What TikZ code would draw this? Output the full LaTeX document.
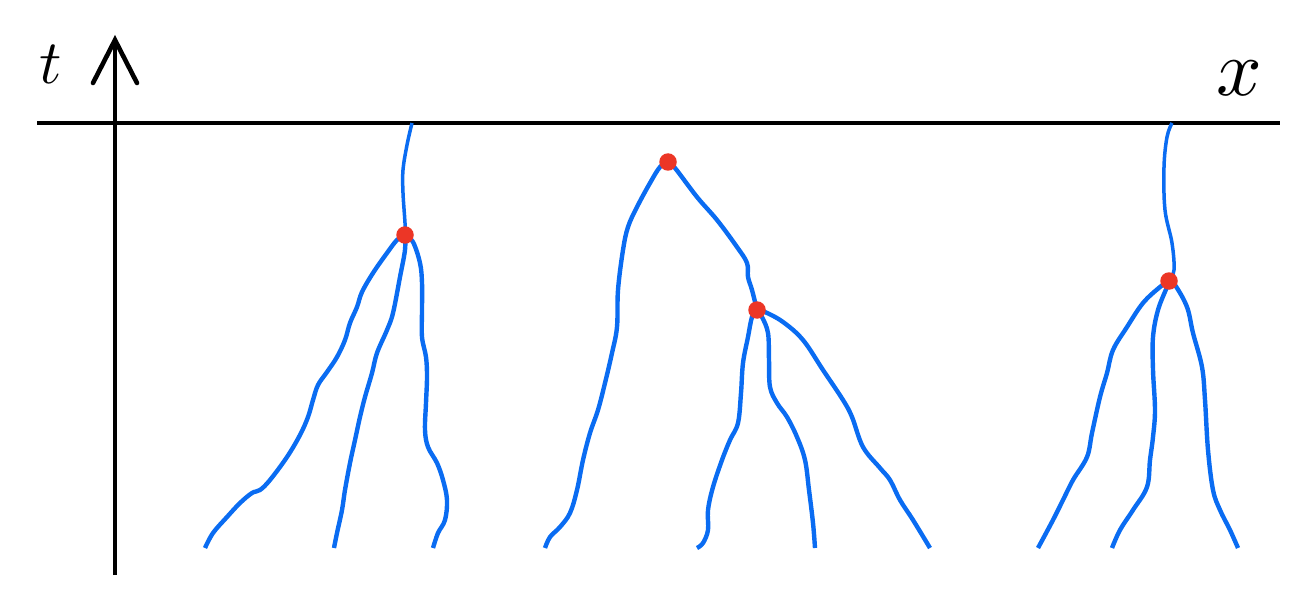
\documentclass[tikz,border=0pt]{standalone}
\usetikzlibrary{calc}
\definecolor{lineblue}{HTML}{0A6CF2}
\definecolor{dotred}{HTML}{EC3626}
\tikzset{
  branch/.style={draw=lineblue, line width=4.4pt, line cap=butt, line join=round},
  stem/.style={branch, line width=3.5pt},
  dot/.style={circle, fill=dotred, inner sep=0pt, minimum size=17.5pt},
  axis/.style={draw=black, line width=4.6pt},
  lbl/.style={inner sep=0pt, text=black}
}
\begin{document}
\begin{tikzpicture}[x=1pt,y=-1pt]
\useasboundingbox (0,0) rectangle (1310,599);
% axes
\coordinate (xl0) at (37,123);
\coordinate (xr0) at (1280,123);
\coordinate (yb) at (115,575);
\coordinate (ytip) at (115,40);
\draw[axis] (xl0) -- (xr0);
\draw[axis] (yb) -- (ytip);
\draw[axis, line join=miter, line cap=round] ($(ytip)+(-22,43)$) -- (ytip) -- ($(ytip)+(22,43)$);
\node[lbl, scale=6.2] (tlab) at (51,64) {$t$};
\node[lbl, scale=8] (xlab) at (1239,78) {$x$};

% branching points
\coordinate (A) at (405,235);
\coordinate (B) at (668,162);
\coordinate (C) at (757,310);
\coordinate (D) at (1169,281);
\coordinate (Atop) at (412,123);
\coordinate (Dtop) at (1172,123);

% tree 1
\draw[stem] plot[smooth, tension=0.6] coordinates {(Atop) (407,145) (403,170) (403,193) (405,223) (A)};
\draw[branch] plot[smooth, tension=0.6] coordinates {(A) (397,240) (387,253) (373,273) (362,292) (357,307) (350,323) (345,340) (337,357) (327,372) (318,385) (313,400) (308,417) (300,435) (287,457) (270,480) (260,490) (252,493) (240,503) (227,517) (213,533) (205,548)};
\draw[branch] plot[smooth, tension=0.6] coordinates {(A) (405,250) (400,277) (393,313) (387,330) (377,353) (372,373) (365,397) (360,417) (355,440) (350,463) (345,490) (342,510) (337,533) (334,548)};
\draw[branch] plot[smooth, tension=0.6] coordinates {(A) (413,242) (420,263) (422,283) (422,310) (422,337) (426,357) (427,377) (426,403) (425,430) (428,447) (437,463) (443,480) (447,500) (445,520) (438,533) (433,548)};

% tree 2
\draw[branch] plot[smooth, tension=0.6] coordinates {(B) (660,167) (650,183) (637,207) (628,227) (623,250) (618,290) (617,327) (612,353) (605,383) (598,410) (590,433) (583,460) (577,490) (570,513) (560,527) (550,537) (545,548)};
\draw[branch] plot[smooth, tension=0.6] coordinates {(B) (675,168) (697,197) (717,220) (737,247) (747,263) (748,277) (752,290) (C)};
\draw[branch] plot[smooth, tension=0.6] coordinates {(C) (752,317) (748,337) (743,363) (741,393) (738,423) (730,440) (722,460) (713,487) (708,510) (708,530) (703,543) (697,548)};
\draw[branch] plot[smooth, tension=0.6] coordinates {(C) (762,317) (768,333) (769,360) (770,387) (777,403) (787,417) (797,437) (805,460) (809,490) (813,523) (815,548)};
\draw[branch] plot[smooth, tension=0.6] coordinates {(C) (765,312) (783,322) (803,340) (823,370) (843,400) (852,417) (863,447) (880,468) (890,480) (900,500) (913,520) (930,548)};

% tree 3
\draw[stem] plot[smooth, tension=0.6] coordinates {(Dtop) (1167,137) (1164,167) (1165,210) (1172,243) (1174,270) (D)};
\draw[branch] plot[smooth, tension=0.6] coordinates {(D) (1160,287) (1143,303) (1127,327) (1113,350) (1107,373) (1100,397) (1092,433) (1087,457) (1073,480) (1063,500) (1053,520) (1038,548)};
\draw[branch] plot[smooth, tension=0.6] coordinates {(D) (1167,287) (1158,310) (1153,337) (1153,370) (1155,410) (1153,437) (1150,460) (1147,487) (1133,510) (1120,530) (1112,548)};
\draw[branch] plot[smooth, tension=0.6] coordinates {(D) (1175,285) (1187,307) (1193,333) (1202,367) (1205,400) (1208,450) (1213,490) (1220,510) (1230,530) (1238,548)};

% dots
\node[dot] (dA) at (A) {};
\node[dot] (dB) at (B) {};
\node[dot] (dC) at (C) {};
\node[dot] (dD) at (D) {};
\end{tikzpicture}
\end{document}
